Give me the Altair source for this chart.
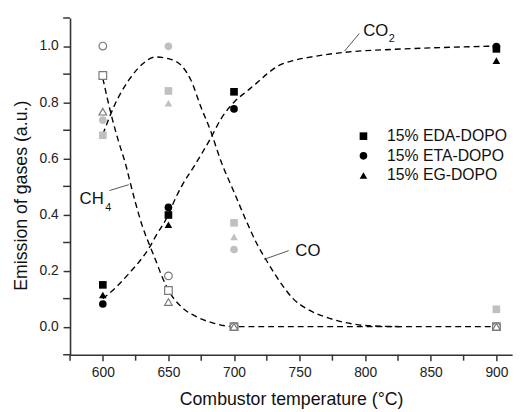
import altair as alt
import pandas as pd

# ---------------- data ----------------
temps = [600, 650, 700, 900]
materials = ["15% EDA-DOPO", "15% ETA-DOPO", "15% EG-DOPO"]

# CO2 (black filled markers)
co2_eda = [0.149, 0.398, 0.837, 0.990]
co2_eta = [0.081, 0.425, 0.776, 0.998]
co2_eg = [0.113, 0.363, 0.840, 0.948]
# CO (gray filled markers)
co_eda = [0.682, 0.840, 0.370, 0.062]
co_eta = [0.736, 0.999, 0.275, 0.000]
co_eg = [0.765, 0.796, 0.320, 0.000]
# CH4 (open markers)
ch4_eda = [0.895, 0.129, 0.000, 0.000]
ch4_eta = [1.000, 0.181, 0.000, 0.000]
ch4_eg = [0.766, 0.088, 0.000, 0.000]

# dashed guide curves
co2_curve_t = [600, 610, 620, 630, 636, 640, 650, 653, 660, 670, 682, 690, 700, 710, 717, 725, 734, 745, 760, 785, 820, 860, 900]
co2_curve_v = [0.10, 0.14, 0.19, 0.245, 0.286, 0.32, 0.40, 0.433, 0.50, 0.575, 0.67, 0.74, 0.80, 0.84, 0.867, 0.90, 0.93, 0.948, 0.962, 0.978, 0.988, 0.995, 1.0]
ch4_curve_t = [600, 607, 612, 618, 620, 625, 630, 636, 640, 645, 651, 660, 672, 685, 700, 750, 800, 850, 900]
ch4_curve_v = [0.885, 0.744, 0.66, 0.568, 0.53, 0.44, 0.36, 0.286, 0.24, 0.18, 0.122, 0.07, 0.034, 0.012, 0.0, 0.0, 0.0, 0.0, 0.0]
co_curve_t = [600, 609, 620, 630, 640, 650, 660, 667, 675, 682, 690, 700, 710, 718, 725, 735, 745, 755, 770, 780, 790, 800, 830]
co_curve_v = [0.685, 0.79, 0.88, 0.935, 0.961, 0.955, 0.93, 0.88, 0.78, 0.70, 0.59, 0.48, 0.37, 0.29, 0.234, 0.16, 0.10, 0.065, 0.034, 0.02, 0.01, 0.004, 0.0]

# axis ticks
x_major = [600, 650, 700, 750, 800, 850, 900]
x_minor = [575, 625, 675, 725, 775, 825, 875]
y_major = [0.0, 0.2, 0.4, 0.6, 0.8, 1.0]
y_minor = [-0.1, 0.1, 0.3, 0.5, 0.7, 0.9, 1.1]

# annotation labels
label_main = ["CO", "CH", "CO"]
label_main_t = [798.5, 582.3, 746.75]
label_main_v = [1.054, 0.456, 0.269]
label_sub = ["2", "4"]
label_sub_t = [818.0, 601.8]
label_sub_v = [1.026, 0.421]
leader_t1 = [784.25, 605.0, 723.0]
leader_v1 = [0.982, 0.485, 0.240]
leader_t2 = [795.5, 619.8, 741.7]
leader_v2 = [1.045, 0.506, 0.271]

# ---------------- tables ----------------
def pts(series):
    rows = []
    for mat, vals in zip(materials, series):
        for t, v in zip(temps, vals):
            rows.append({"temp": t, "value": v, "material": mat})
    return pd.DataFrame(rows)

df_co2 = pts([co2_eda, co2_eta, co2_eg])
df_co = pts([co_eda, co_eta, co_eg])
df_ch4 = pts([ch4_eda, ch4_eta, ch4_eg])

curves = pd.concat([
    pd.DataFrame({"temp": co2_curve_t, "value": co2_curve_v, "gas": "CO2"}),
    pd.DataFrame({"temp": ch4_curve_t, "value": ch4_curve_v, "gas": "CH4"}),
    pd.DataFrame({"temp": co_curve_t, "value": co_curve_v, "gas": "CO"}),
])
df_main = pd.DataFrame({"temp": label_main_t, "value": label_main_v, "text": label_main})
df_sub = pd.DataFrame({"temp": label_sub_t, "value": label_sub_v, "text": label_sub})
df_lead = pd.DataFrame({"t1": leader_t1, "v1": leader_v1, "t2": leader_t2, "v2": leader_v2})
df_xminor = pd.DataFrame({"temp": x_minor})
df_yminor = pd.DataFrame({"value": y_minor})

FONT = "Liberation Sans"
AX = "#333333"
W, H = 449, 342

xscale = alt.Scale(domain=[575, 912], nice=False, zero=False)
yscale = alt.Scale(domain=[-0.1, 1.1], nice=False, zero=False)

xaxis = alt.Axis(
    title="Combustor temperature (°C)",
    values=x_major, format="d",
    labelOverlap=False, labelFlush=False,
    grid=False, domainColor=AX, tickColor=AX, domainWidth=1.6, tickWidth=1.5,
    tickSize=6, labelPadding=5, labelFontSize=14, labelFont=FONT, labelColor="#222",
    titleFont=FONT, titleFontSize=18, titleFontWeight="normal", titleColor="#111",
    titlePadding=12,
)
yaxis = alt.Axis(
    title="Emission of gases (a.u.)",
    values=y_major, format=".1f",
    labelOverlap=False, labelFlush=False,
    grid=False, domainColor=AX, tickColor=AX, domainWidth=1.6, tickWidth=1.5,
    tickSize=7, labelPadding=5, labelFontSize=14, labelFont=FONT, labelColor="#222",
    titleFont=FONT, titleFontSize=18, titleFontWeight="normal", titleColor="#111",
    titlePadding=9, titleY=180,
)

X = alt.X("temp:Q", scale=xscale, axis=xaxis)
Y = alt.Y("value:Q", scale=yscale, axis=yaxis)
shape_scale = alt.Scale(domain=materials, range=["square", "circle", "triangle-up"])
legend = alt.Legend(
    title=None, orient="none", legendX=290, legendY=112, padding=0,
    labelFont=FONT, labelFontSize=16, labelColor="#111", labelOffset=16,
    symbolSize=60, symbolFillColor="black", symbolStrokeColor="black",
    symbolStrokeWidth=0, rowPadding=4,
)
SH = alt.Shape("material:N", scale=shape_scale, legend=legend)

curve_layer = alt.Chart(curves).mark_line(
    color="black", strokeDash=[6, 4], strokeWidth=1.4, interpolate="monotone"
).encode(x=X, y=Y, detail="gas:N")

black_layer = alt.Chart(df_co2).mark_point(filled=True, size=60, color="black", opacity=1).encode(
    x=X, y=Y, shape=SH
)
gray_layer = alt.Chart(df_co).mark_point(filled=True, size=60, color="#c0c0c0", opacity=1).encode(
    x=X, y=Y, shape=SH
)
open_layer = alt.Chart(df_ch4).mark_point(
    filled=False, size=60, stroke="#7a7a7a", fill="white", fillOpacity=1, strokeWidth=1.2, opacity=1
).encode(x=X, y=Y, shape=SH)

xminor_layer = alt.Chart(df_xminor).mark_rule(color=AX, strokeWidth=1.5).encode(
    x="temp:Q", y=alt.value(H), y2=alt.value(H + 6)
)
yminor_layer = alt.Chart(df_yminor).mark_rule(color=AX, strokeWidth=1.5).encode(
    y="value:Q", x=alt.value(0), x2=alt.value(-7)
)

lead_layer = alt.Chart(df_lead).mark_rule(color="#555", strokeWidth=1).encode(
    x="t1:Q", y="v1:Q", x2="t2:Q", y2="v2:Q"
)
main_text = alt.Chart(df_main).mark_text(
    align="left", baseline="middle", font=FONT, fontSize=17, color="#111"
).encode(x=X, y=Y, text="text:N")
sub_text = alt.Chart(df_sub).mark_text(
    align="left", baseline="middle", font=FONT, fontSize=11, color="#111"
).encode(x=X, y=Y, text="text:N")

chart = alt.layer(
    curve_layer, black_layer, gray_layer, open_layer, xminor_layer, yminor_layer,
    lead_layer, main_text, sub_text
).properties(
    width=W, height=H,
    padding={"left": 63, "top": 7, "right": 9, "bottom": 55},
    autosize=alt.AutoSizeParams(type="none"),
).configure_view(stroke=None)

chart.save("out.html", embed_options={"renderer": "svg", "actions": False})
